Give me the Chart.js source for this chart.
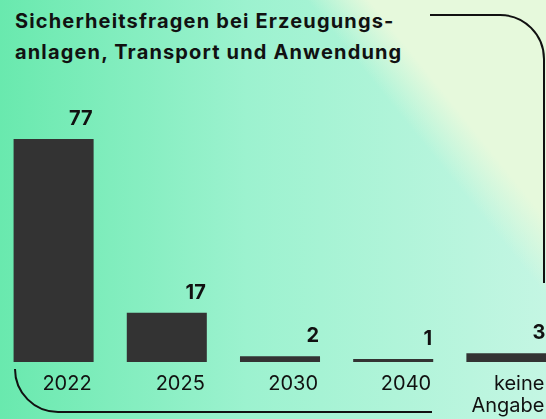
<!DOCTYPE html>
<html lang="de">
<head>
<meta charset="utf-8">
<title>Sicherheitsfragen</title>
<script src="https://cdn.jsdelivr.net/npm/chart.js@4.4.1/dist/chart.umd.min.js"></script>
<style>
  html, body {
    margin: 0;
    padding: 0;
    width: 546px;
    height: 419px;
    overflow: hidden;
  }
  body {
    position: relative;
    font-family: Inter, 'Noto Sans', sans-serif;
    background:
      linear-gradient(51deg, rgba(230, 249, 220, 0) 73%, rgba(230, 249, 220, 1) 80%),
      linear-gradient(90deg, #69e9ae 0%, #9cf2cf 45%, #c4f6e3 100%);
  }
  h1 {
    position: absolute;
    left: 15px;
    top: 6px;
    margin: 0;
    font-size: 20px;
    line-height: 31px;
    font-weight: 700;
    letter-spacing: 1.15px;
    color: #111;
  }
  #chartBox {
    position: absolute;
    left: -3px;
    top: 0;
    width: 566px;
    height: 419px;
  }
  svg.deco {
    position: absolute;
    left: 0;
    top: 0;
  }
</style>
</head>
<body>
<h1>Sicherheitsfragen bei Erzeugungs-<br>anlagen, Transport und Anwendung</h1>

<svg class="deco" width="546" height="419">
  <path d="M430 15 H500 A44 44 0 0 1 544 59 V283" fill="none" stroke="#111" stroke-width="2"/>
  <path d="M15 369 A43 43 0 0 0 58 412 H432" fill="none" stroke="#111" stroke-width="2"/>
</svg>

<div id="chartBox"><canvas id="chart"></canvas></div>

<script>
const categories = ['2022', '2025', '2030', '2040', ['keine', 'Angabe']];
const values = [77, 17, 2, 1, 3];

// Werte über den Balken und Jahreszahlen darunter, jeweils rechtsbündig zur Balkenkante
const barLabels = {
  id: 'barLabels',
  afterDatasetsDraw(chart) {
    const ctx = chart.ctx;
    const bars = chart.getDatasetMeta(0).data;
    ctx.save();
    ctx.textAlign = 'right';
    ctx.textBaseline = 'alphabetic';
    bars.forEach((bar, i) => {
      const right = bar.x + bar.width / 2;
      ctx.fillStyle = '#111';
      ctx.font = '700 20px Inter, sans-serif';
      ctx.fillText(values[i], right - 1, bar.y - 14);

      ctx.font = '400 20px Inter, sans-serif';
      const lines = [].concat(categories[i]);
      lines.forEach((line, j) => {
        ctx.fillText(line, right - 2, 390 + j * 21.7);
      });
    });
    ctx.restore();
  }
};

const ctx = document.getElementById('chart').getContext('2d');
new Chart(ctx, {
  type: 'bar',
  data: {
    labels: categories,
    datasets: [
      {
        data: values,
        backgroundColor: '#333333',
        borderWidth: 0,
        categoryPercentage: 1,
        barPercentage: 0.707,
      },
    ],
  },
  options: {
    responsive: true,
    maintainAspectRatio: false,
    animation: false,
    layout: {
      padding: { top: 139, bottom: 57, left: 0, right: 0 },
    },
    scales: {
      x: { display: false },
      y: { display: false, min: 0, max: 77 },
    },
    plugins: {
      legend: { display: false },
      tooltip: { enabled: false },
    },
  },
  plugins: [barLabels],
});
</script>
</body>
</html>
